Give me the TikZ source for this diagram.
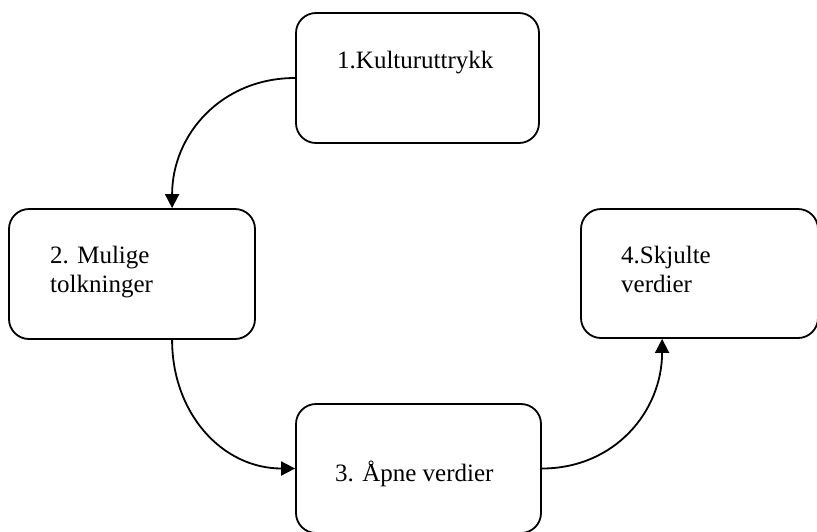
\documentclass[tikz,border=0pt]{standalone}
\usepackage{fontspec}
\setmainfont{Liberation Serif}
\usetikzlibrary{arrows.meta}
\begin{document}
\begin{tikzpicture}[x=1pt,y=-1pt,
  box/.style={draw=black, line width=1.8pt, rounded corners=20pt, minimum width=#1, minimum height=130pt, inner sep=0pt},
  lbl/.style={anchor=base west, inner sep=0pt, font=\fontsize{25}{29}\selectfont},
  conn/.style={line width=1.8pt, -{Triangle[length=14pt,width=14pt]}, looseness=1.05}]
\useasboundingbox (0,0) rectangle (817,531);
\node[box=243pt] (b1) at (417.5,78) {};
\node[box=246pt] (b2) at (132,274) {};
\node[box=245pt, minimum height=129pt] (b3) at (418.5,468.5) {};
\node[box=237pt, minimum height=129pt] (b4) at (699.5,273.5) {};
\node[lbl] (t1) at (337,68) {1.Kulturuttrykk};
\node[lbl] (t2a) at (50,263) {2. Mulige};
\node[lbl] (t2b) at (50,292) {tolkninger};
\node[lbl] (t3) at (335,481) {3. Åpne verdier};
\node[lbl] (t4a) at (621,263) {4.Skjulte};
\node[lbl] (t4b) at (621,292) {verdier};
\draw[conn] (b1.west) to[out=180,in=90] ([xshift=164pt]b2.north west);
\draw[conn] ([xshift=164pt]b2.south west) to[out=-90,in=180] (b3.west);
\draw[conn] (b3.east) to[out=0,in=-90] ([xshift=82pt]b4.south west);
\end{tikzpicture}
\end{document}
